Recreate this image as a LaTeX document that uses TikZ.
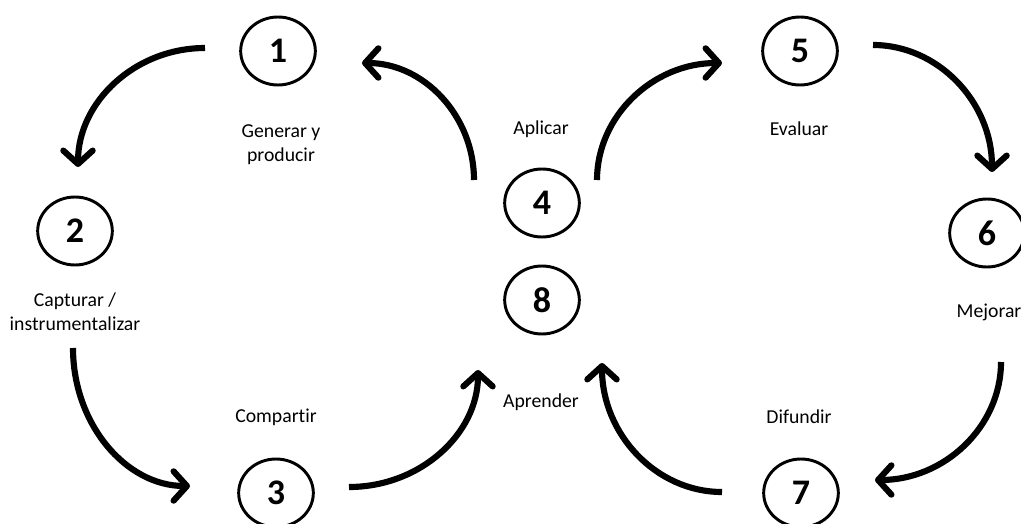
\documentclass[tikz,border=0pt]{standalone}
\usepackage{fontspec}
\setmainfont{Carlito}[Ligatures=NoCommon]
\usetikzlibrary{shapes.geometric,arrows.meta}
\begin{document}
\begin{tikzpicture}[x=0.75pt,y=-0.75pt,
  num/.style={draw,ellipse,line width=2.2pt,minimum width=56pt,minimum height=51pt,inner sep=0pt,font=\bfseries\fontsize{27}{30}\selectfont},
  lbl/.style={align=center,font=\fontsize{14.8}{18}\selectfont},
  flow/.style={line width=4.6pt,-{Straight Barb[length=10pt,width=22pt,line width=4.6pt,line cap=round,line join=round]}}]
\useasboundingbox (0,0) rectangle (1021,524);
\node[num] (n1) at (278,51) {1};
\node[num] (n2) at (75,231) {2};
\node[num] (n3) at (276,493) {3};
\node[num] (n4) at (542,203) {4};
\node[num] (n5) at (800,51) {5};
\node[num] (n6) at (987,233) {6};
\node[num] (n7) at (801,493) {7};
\node[num] (n8) at (542,300) {8};
\node[lbl] (l1) at (281,145) {Generar y\\producir};
\node[lbl] (l2) at (75,312) {Capturar /\\instrumentalizar};
\node[lbl] (l3) at (276,417) {Compartir};
\node[lbl] (l4) at (541,129) {Aplicar};
\node[lbl] (l8) at (541,402) {Aprender};
\node[lbl] (l5) at (799,129) {Evaluar};
\node[lbl] (l6) at (989,312) {Mejorar};
\node[lbl] (l7) at (799,417) {Difundir};
\coordinate (a1s) at (205,48);  \coordinate (a1e) at (78,167);
\coordinate (a2s) at (73,348);  \coordinate (a2e) at (190,486);
\coordinate (a3s) at (349,487); \coordinate (a3e) at (478,370);
\coordinate (a4s) at (474,180); \coordinate (a4e) at (362,63);
\coordinate (a5s) at (597,180); \coordinate (a5e) at (722,63);
\coordinate (a6s) at (873,45);  \coordinate (a6e) at (992,172);
\coordinate (a7s) at (1001,362); \coordinate (a7e) at (875,480);
\coordinate (a8s) at (722,492); \coordinate (a8e) at (602,363);
\draw[flow] (a1s) .. controls (135,48) and (78,102) .. (a1e);
\draw[flow] (a2s) .. controls (73,424) and (126,486) .. (a2e);
\draw[flow] (a3s) .. controls (420,487) and (478,434) .. (a3e);
\draw[flow] (a4s) .. controls (474,116) and (424,63) .. (a4e);
\draw[flow] (a5s) .. controls (597,116) and (653,63) .. (a5e);
\draw[flow] (a6s) .. controls (938,45) and (992,102) .. (a6e);
\draw[flow] (a7s) .. controls (1001,427) and (944,480) .. (a7e);
\draw[flow] (a8s) .. controls (656,492) and (602,434) .. (a8e);
\end{tikzpicture}
\end{document}
